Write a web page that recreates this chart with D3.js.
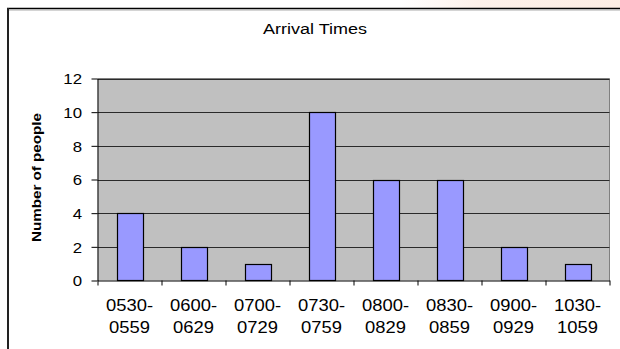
<!DOCTYPE html>
<html><head><meta charset="utf-8">
<script src="https://cdn.jsdelivr.net/npm/d3@7"></script>
<style>body{margin:0;background:#fff}svg{display:block}</style>
</head><body><svg id="c" width="620" height="349"></svg>
<script>
const categories = [["0530-","0559"],["0600-","0629"],["0700-","0729"],["0730-","0759"],["0800-","0829"],["0830-","0859"],["0900-","0929"],["1030-","1059"]];
const values = [4,2,1,10,6,6,2,1];
const yTicks = [0,2,4,6,8,10,12];
const title = "Arrival Times";
const yTitle = "Number of people";

const svg = d3.select("#c");
const FONT = "'Liberation Sans', Arial, sans-serif";

// top glow
const defs = svg.append("defs");
const lg = defs.append("linearGradient").attr("id","glow").attr("x1","0").attr("x2","1").attr("y1","0").attr("y2","0");
lg.append("stop").attr("offset","0").attr("stop-color","#ffffff");
lg.append("stop").attr("offset","0.35").attr("stop-color","#fdf1ea");
lg.append("stop").attr("offset","1").attr("stop-color","#fcede4");
svg.append("rect").attr("x",400).attr("y",0).attr("width",220).attr("height",8).attr("fill","url(#glow)");

// outer border
svg.append("line").attr("x1",7).attr("x2",620).attr("y1",8.5).attr("y2",8.5).attr("stroke","#000").attr("stroke-width",1.5);
svg.append("line").attr("x1",8).attr("x2",620).attr("y1",10).attr("y2",10).attr("stroke","#aaa").attr("stroke-width",1);
svg.append("line").attr("x1",8).attr("x2",8).attr("y1",8).attr("y2",349).attr("stroke","#222").attr("stroke-width",2);

const x = d3.scaleBand().domain(d3.range(categories.length)).range([97.5,609.5]).paddingInner(0).paddingOuter(0);
const y = d3.scaleLinear().domain([0,12]).range([280.5,78.5]);

// plot area
svg.append("rect").attr("x",97.5).attr("y",78.5).attr("width",512).attr("height",202).attr("fill","#c0c0c0");
svg.append("path").attr("d","M97.5,78.5H609.5V280.5").attr("fill","none").attr("stroke","#808080").attr("stroke-width",1);

// gridlines
svg.append("g").selectAll("line").data(yTicks.filter(d=>d>0)).join("line")
  .attr("x1",97.5).attr("x2",609.5)
  .attr("y1",d=>Math.round(y(d))+0.5).attr("y2",d=>Math.round(y(d))+0.5)
  .attr("stroke","#2a2a2a").attr("stroke-width",1);

// bars
const bw = x.bandwidth()/2.5;
svg.append("g").selectAll("rect").data(values).join("rect")
  .attr("x",(d,i)=>Math.round(x(i)+x.bandwidth()/2-bw/2)+0.5)
  .attr("width",Math.round(bw))
  .attr("y",d=>Math.round(y(d))+0.5)
  .attr("height",d=>280.5-(Math.round(y(d))+0.5))
  .attr("fill","#9999ff").attr("stroke","#000").attr("stroke-width",1.2);

// y axis
const ya = svg.append("g").attr("transform","translate(97.5,0)")
  .call(d3.axisLeft(y).tickValues(yTicks).tickSize(6).tickSizeOuter(0).tickFormat(d3.format("d")));
ya.select(".domain").attr("stroke","#000");
ya.selectAll(".tick line").attr("stroke","#000");
ya.selectAll(".tick text").remove();
ya.selectAll(".tick").append("text")
  .attr("text-anchor","end").attr("dy","0.35em")
  .attr("transform","translate(-15.5,0) scale(1.12,1)")
  .attr("font-family",FONT).attr("font-size",15).attr("fill","#000")
  .text(d=>d);

// x axis
const xt = d3.scaleLinear().domain([0,categories.length]).range([97.5,609.5]);
const xa = svg.append("g").attr("transform","translate(0,280.5)")
  .call(d3.axisBottom(xt).tickValues(d3.range(categories.length+1)).tickSize(5).tickSizeOuter(0).tickFormat(""));
xa.select(".domain").attr("stroke","#000");
xa.selectAll(".tick line").attr("stroke","#000");

const lbl = svg.append("g").selectAll("g").data(categories).join("g")
  .attr("transform",(d,i)=>`translate(${x(i)+x.bandwidth()/2},0)`);
lbl.append("text").attr("text-anchor","middle").attr("transform","translate(0,310.5) scale(1.15,1)")
  .attr("font-family",FONT).attr("font-size",16).attr("fill","#000").text(d=>d[0]);
lbl.append("text").attr("text-anchor","middle").attr("transform","translate(0,333) scale(1.15,1)")
  .attr("font-family",FONT).attr("font-size",16).attr("fill","#000").text(d=>d[1]);

// title
svg.append("text").attr("text-anchor","middle").attr("transform","translate(315,34) scale(1.2,1)")
  .attr("font-family",FONT).attr("font-size",15).attr("fill","#000").text(title);

// y title
svg.append("text").attr("text-anchor","middle")
  .attr("transform","translate(41,177.5) rotate(-90)")
  .attr("font-family",FONT).attr("font-size",12).attr("font-weight","bold").attr("fill","#000")
  .attr("textLength",129).attr("lengthAdjust","spacingAndGlyphs")
  .text(yTitle);
</script></body></html>
